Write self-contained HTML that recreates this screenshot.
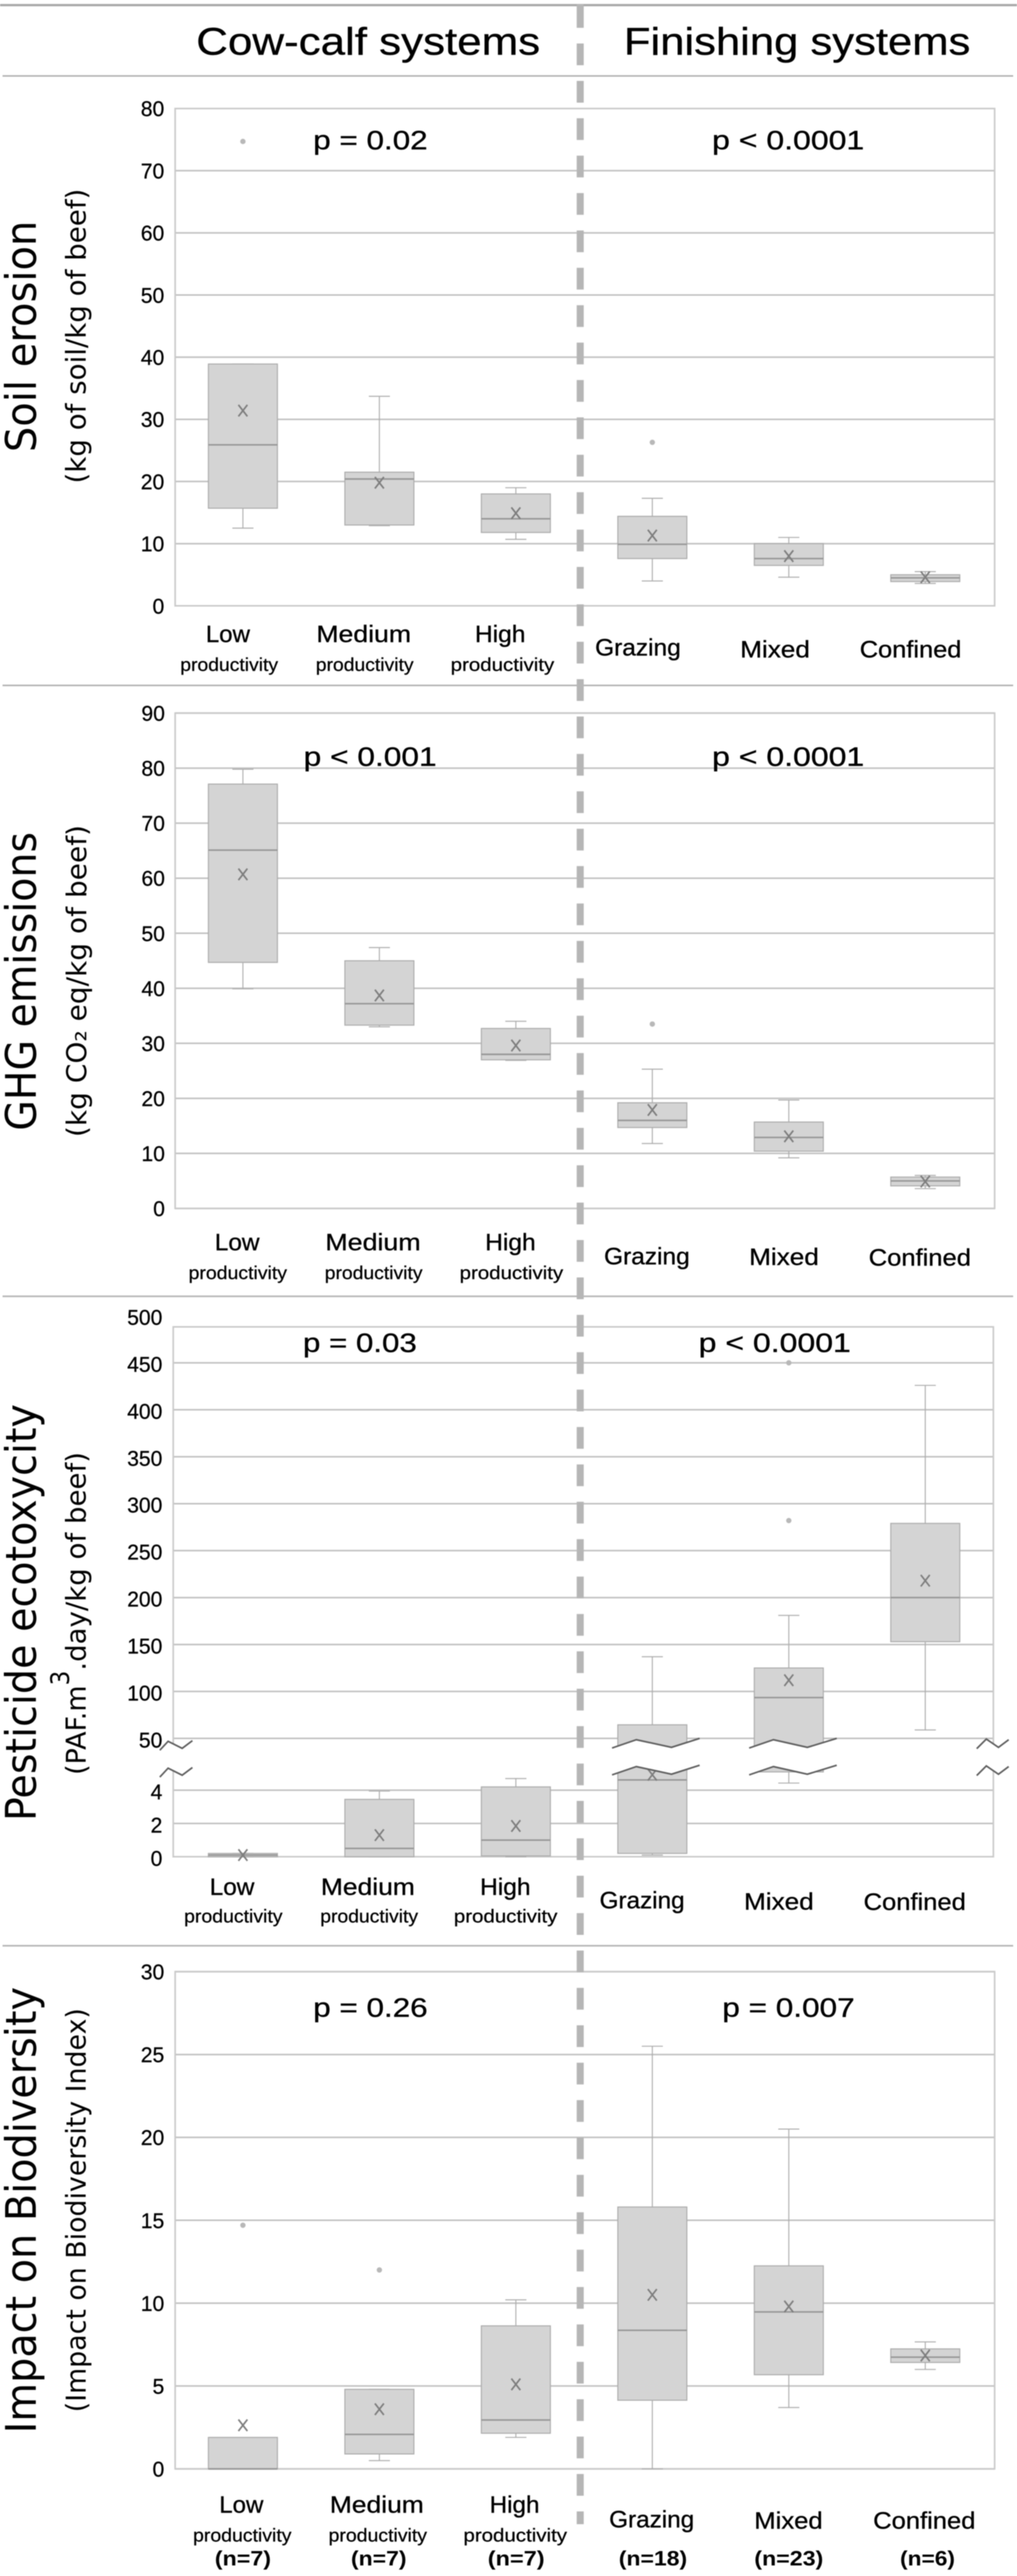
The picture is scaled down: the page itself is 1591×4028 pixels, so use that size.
<!DOCTYPE html>
<html lang="en">
<head>
<meta charset="utf-8">
<title>Beef production environmental impacts</title>
<style>
html,body{margin:0;padding:0;background:#fff;width:1591px;height:4028px;overflow:hidden}
#figure{display:block;width:1591px;height:4028px;filter:blur(.8px)}
text{fill:#000;font-family:"Liberation Sans",sans-serif}
.head{font-size:60px;stroke:#000;stroke-width:.5px}
.p{font-size:42px;stroke:#000;stroke-width:.5px}
.cat{font-size:37px;stroke:#000;stroke-width:.5px}
.prod{font-size:29px;stroke:#000;stroke-width:.4px}
.n{font-size:32px;font-weight:bold}
.tick{font-size:33px;text-anchor:end;stroke:#000;stroke-width:.4px}
.title{font-family:"DejaVu Sans",sans-serif;font-size:66px}
.sub{font-family:"DejaVu Sans",sans-serif;font-size:43px}
</style>
</head>
<body>
<svg id="figure" xmlns="http://www.w3.org/2000/svg" width="1591" height="4028" viewBox="0 0 1591 4028">
  <g id="plots"></g>

  <g stroke="#b4b4b4">
    <line x1="0" x2="1591" y1="8" y2="8" stroke-width="3.5" stroke="#a6a6a6"/>
    <line x1="4" x2="1585" y1="118.7" y2="118.7" stroke-width="2.5"/>
    <line x1="4" x2="1585" y1="1071.7" y2="1071.7" stroke-width="2.5"/>
    <line x1="4" x2="1585" y1="2027" y2="2027" stroke-width="2.5"/>
    <line x1="4" x2="1585" y1="3042.5" y2="3042.5" stroke-width="2.5"/>
  </g>
  <line x1="907.7" x2="907.7" y1="9.5" y2="3947" stroke="#b6b6b6" stroke-width="11" stroke-dasharray="34 24.47"/>
  <line x1="907.7" x2="907.7" y1="7" y2="10" stroke="#b6b6b6" stroke-width="11"/>

  <text class="head" x="307" y="85.5" textLength="538" lengthAdjust="spacingAndGlyphs">Cow-calf systems</text>
  <text class="head" x="976" y="85.5" textLength="542" lengthAdjust="spacingAndGlyphs">Finishing systems</text>

  <!-- Soil erosion -->
  <text class="title" transform="translate(56,707) rotate(-90)" textLength="362" lengthAdjust="spacingAndGlyphs">Soil erosion</text>
  <text class="sub" transform="translate(134,756) rotate(-90)" textLength="461" lengthAdjust="spacingAndGlyphs">(kg of soil/kg of beef)</text>
  <text class="p" x="490" y="233.5" textLength="179" lengthAdjust="spacingAndGlyphs">p = 0.02</text>
  <text class="p" x="1114" y="233.5" textLength="238" lengthAdjust="spacingAndGlyphs">p &lt; 0.0001</text>
  <g>
    <text class="cat" x="322" y="1004" textLength="69" lengthAdjust="spacingAndGlyphs">Low</text>
    <text class="prod" x="282" y="1049" textLength="153" lengthAdjust="spacingAndGlyphs">productivity</text>
    <text class="cat" x="495" y="1004" textLength="148" lengthAdjust="spacingAndGlyphs">Medium</text>
    <text class="prod" x="494" y="1049" textLength="153" lengthAdjust="spacingAndGlyphs">productivity</text>
    <text class="cat" x="743" y="1004" textLength="79" lengthAdjust="spacingAndGlyphs">High</text>
    <text class="prod" x="705" y="1049" textLength="162" lengthAdjust="spacingAndGlyphs">productivity</text>
    <text class="cat" x="931" y="1025" textLength="134" lengthAdjust="spacingAndGlyphs">Grazing</text>
    <text class="cat" x="1158" y="1028" textLength="109" lengthAdjust="spacingAndGlyphs">Mixed</text>
    <text class="cat" x="1345" y="1028" textLength="159" lengthAdjust="spacingAndGlyphs">Confined</text>
  </g>

  <!-- GHG -->
  <text class="title" transform="translate(56,1768) rotate(-90)" textLength="467" lengthAdjust="spacingAndGlyphs">GHG emissions</text>
  <text class="sub" transform="translate(135,1778) rotate(-90)" textLength="488" lengthAdjust="spacingAndGlyphs">(kg CO₂ eq/kg of beef)</text>
  <text class="p" x="475" y="1197.4" textLength="208" lengthAdjust="spacingAndGlyphs">p &lt; 0.001</text>
  <text class="p" x="1114" y="1197.4" textLength="238" lengthAdjust="spacingAndGlyphs">p &lt; 0.0001</text>
  <g>
    <text class="cat" x="336" y="1955" textLength="70" lengthAdjust="spacingAndGlyphs">Low</text>
    <text class="prod" x="295" y="2000" textLength="154" lengthAdjust="spacingAndGlyphs">productivity</text>
    <text class="cat" x="509" y="1955" textLength="149" lengthAdjust="spacingAndGlyphs">Medium</text>
    <text class="prod" x="508" y="2000" textLength="153" lengthAdjust="spacingAndGlyphs">productivity</text>
    <text class="cat" x="759" y="1955" textLength="79" lengthAdjust="spacingAndGlyphs">High</text>
    <text class="prod" x="719" y="2000" textLength="162" lengthAdjust="spacingAndGlyphs">productivity</text>
    <text class="cat" x="945" y="1977" textLength="134" lengthAdjust="spacingAndGlyphs">Grazing</text>
    <text class="cat" x="1172" y="1978" textLength="109" lengthAdjust="spacingAndGlyphs">Mixed</text>
    <text class="cat" x="1359" y="1979" textLength="160" lengthAdjust="spacingAndGlyphs">Confined</text>
  </g>

  <!-- Pesticide -->
  <text class="title" transform="translate(56,2847.5) rotate(-90)" textLength="652" lengthAdjust="spacingAndGlyphs">Pesticide ecotoxycity</text>
  <text class="sub" transform="translate(134,2775.4) rotate(-90)"><tspan textLength="140" lengthAdjust="spacingAndGlyphs">(PAF.m</tspan></text>
  <text class="sub" transform="translate(108,2635.4) rotate(-90)" style="font-size:40px" textLength="23" lengthAdjust="spacingAndGlyphs">3</text>
  <text class="sub" transform="translate(134,2612.4) rotate(-90)" textLength="342" lengthAdjust="spacingAndGlyphs">.day/kg of beef)</text>
  <text class="p" x="474" y="2114" textLength="178" lengthAdjust="spacingAndGlyphs">p = 0.03</text>
  <text class="p" x="1093" y="2114" textLength="238" lengthAdjust="spacingAndGlyphs">p &lt; 0.0001</text>
  <g>
    <text class="cat" x="328" y="2963" textLength="70" lengthAdjust="spacingAndGlyphs">Low</text>
    <text class="prod" x="288" y="3006" textLength="154" lengthAdjust="spacingAndGlyphs">productivity</text>
    <text class="cat" x="502" y="2963" textLength="147" lengthAdjust="spacingAndGlyphs">Medium</text>
    <text class="prod" x="501" y="3006" textLength="153" lengthAdjust="spacingAndGlyphs">productivity</text>
    <text class="cat" x="751" y="2963" textLength="79" lengthAdjust="spacingAndGlyphs">High</text>
    <text class="prod" x="710" y="3006" textLength="162" lengthAdjust="spacingAndGlyphs">productivity</text>
    <text class="cat" x="938" y="2984" textLength="133" lengthAdjust="spacingAndGlyphs">Grazing</text>
    <text class="cat" x="1164" y="2986" textLength="109" lengthAdjust="spacingAndGlyphs">Mixed</text>
    <text class="cat" x="1351" y="2986.5" textLength="160" lengthAdjust="spacingAndGlyphs">Confined</text>
  </g>

  <!-- Biodiversity -->
  <text class="title" transform="translate(56,3805) rotate(-90)" textLength="698" lengthAdjust="spacingAndGlyphs">Impact on Biodiversity</text>
  <text class="sub" transform="translate(134,3772) rotate(-90)" textLength="632" lengthAdjust="spacingAndGlyphs">(Impact on Biodiversity Index)</text>
  <text class="p" x="490" y="3153.7" textLength="179" lengthAdjust="spacingAndGlyphs">p = 0.26</text>
  <text class="p" x="1130" y="3153.7" textLength="207" lengthAdjust="spacingAndGlyphs">p = 0.007</text>
  <g>
    <text class="cat" x="343" y="3929" textLength="69" lengthAdjust="spacingAndGlyphs">Low</text>
    <text class="prod" x="302" y="3974" textLength="154" lengthAdjust="spacingAndGlyphs">productivity</text>
    <text class="cat" x="516" y="3929" textLength="147" lengthAdjust="spacingAndGlyphs">Medium</text>
    <text class="prod" x="514" y="3974" textLength="154" lengthAdjust="spacingAndGlyphs">productivity</text>
    <text class="cat" x="766" y="3929" textLength="78" lengthAdjust="spacingAndGlyphs">High</text>
    <text class="prod" x="725" y="3974" textLength="162" lengthAdjust="spacingAndGlyphs">productivity</text>
    <text class="cat" x="953" y="3952" textLength="133" lengthAdjust="spacingAndGlyphs">Grazing</text>
    <text class="cat" x="1180" y="3954" textLength="107" lengthAdjust="spacingAndGlyphs">Mixed</text>
    <text class="cat" x="1366" y="3954" textLength="160" lengthAdjust="spacingAndGlyphs">Confined</text>
    <text class="n" x="336" y="4011.5" textLength="88" lengthAdjust="spacingAndGlyphs">(n=7)</text>
    <text class="n" x="549" y="4011.5" textLength="87" lengthAdjust="spacingAndGlyphs">(n=7)</text>
    <text class="n" x="763" y="4011.5" textLength="89" lengthAdjust="spacingAndGlyphs">(n=7)</text>
    <text class="n" x="968" y="4011.5" textLength="107" lengthAdjust="spacingAndGlyphs">(n=18)</text>
    <text class="n" x="1180" y="4011.5" textLength="108" lengthAdjust="spacingAndGlyphs">(n=23)</text>
    <text class="n" x="1408" y="4011.5" textLength="86" lengthAdjust="spacingAndGlyphs">(n=6)</text>
  </g>
</svg>

<script>
const categories = ['low', 'medium', 'high', 'grazing', 'mixed', 'confined'];

const soilTicks = [0, 10, 20, 30, 40, 50, 60, 70, 80];
const soilMin = [12.5, 12.9, 10.7, 4, 4.6, 3.6];
const soilQ1 = [15.7, 13, 11.8, 7.6, 6.5, 3.9];
const soilMedian = [25.9, 20.4, 14, 9.9, 7.6, 4.5];
const soilQ3 = [38.9, 21.5, 18, 14.4, 10, 5];
const soilMax = [38.9, 33.7, 19, 17.3, 11, 5.5];
const soilMean = [31.4, 19.8, 14.9, 11.3, 8, 4.6];
const soilOutliers = [[74.7], [], [], [26.3], [], []];

const ghgTicks = [0, 10, 20, 30, 40, 50, 60, 70, 80, 90];
const ghgMin = [39.9, 33, 26.9, 11.8, 9.2, 3.6];
const ghgQ1 = [44.7, 33.3, 27, 14.7, 10.4, 4.1];
const ghgMedian = [65.1, 37.2, 28, 16, 12.9, 5];
const ghgQ3 = [77.1, 45, 32.7, 19.2, 15.7, 5.7];
const ghgMax = [79.8, 47.4, 34, 25.3, 19.7, 6];
const ghgMean = [60.7, 38.7, 29.6, 17.9, 13.1, 4.9];
const ghgOutliers = [[], [], [], [33.5], [], []];

const pestTicks = [0, 2, 4, 50, 100, 150, 200, 250, 300, 350, 400, 450, 500];
const pestMin = [0, 0, 0, 0.1, 4.43, 59];
const pestQ1 = [0, 0, 0.05, 0.2, 5.1, 153];
const pestMedian = [0.1, 0.5, 1, 4.62, 93.5, 200];
const pestQ3 = [0.2, 3.45, 4.2, 64.5, 125, 279];
const pestMax = [0.2, 3.95, 4.7, 137, 181, 426];
const pestMean = [0.1, 1.3, 1.85, 4.93, 112, 218];
const pestOutliers = [[], [], [], [], [282, 450], []];

const bioTicks = [0, 5, 10, 15, 20, 25, 30];
const bioMin = [0, 0.5, 1.9, 0, 3.7, 6];
const bioQ1 = [0, 0.9, 2.15, 4.14, 5.68, 6.42];
const bioMedian = [0, 2.08, 2.95, 8.36, 9.47, 6.74];
const bioQ3 = [1.9, 4.8, 8.63, 15.8, 12.25, 7.24];
const bioMax = [1.9, 4.8, 10.2, 25.5, 20.5, 7.66];
const bioMean = [2.63, 3.6, 5.1, 10.5, 9.8, 6.84];
const bioOutliers = [[14.7], [12], [], [], [], []];

const SVGNS = 'http://www.w3.org/2000/svg';
const root = document.getElementById('plots');

function linear(d0, d1, r0, r1) {
  return function (v) { return r0 + (v - d0) * (r1 - r0) / (d1 - d0); };
}
function xBand(i) { return 380 + i * 213.5; }

function shape(parent, tag, name, attrs) {
  const el = document.createElementNS(SVGNS, tag);
  
  
  for (const k in attrs) el.setAttribute(k, attrs[k]);
  parent.appendChild(el);
  return el;
}

function drawPanel(cfg) {
  const y = cfg.y;
  const g = shape(root, 'g', cfg.id + '-chart', {});
  const grid = shape(g, 'g', cfg.id + '-gridlines', {stroke: '#c2c2c2', 'stroke-width': 2.5});
  cfg.ticks.forEach(function (t) {
    const py = Math.max(y(t), cfg.top);
    shape(grid, 'line', cfg.id + '-gridline-' + t, {x1: cfg.left, x2: cfg.right, y1: py, y2: py});
  });
  shape(g, 'rect', cfg.id + '-plot-frame', {x: cfg.left, y: cfg.top, width: cfg.right - cfg.left, height: y(0) - cfg.top, fill: 'none', stroke: '#cacaca', 'stroke-width': 2.5});

  categories.forEach(function (c, i) {
    const cx = xBand(i);
    const name = cfg.id + '-' + c;
    const box = shape(g, 'g', name + '-boxplot', {});
    const whisk = {stroke: '#adadad', 'stroke-width': 1.6};
    shape(box, 'line', name + '-upper-whisker', Object.assign({x1: cx, x2: cx, y1: y(cfg.q3[i]), y2: y(cfg.max[i])}, whisk));
    shape(box, 'line', name + '-upper-cap', Object.assign({x1: cx - 16.5, x2: cx + 16.5, y1: y(cfg.max[i]), y2: y(cfg.max[i])}, whisk));
    shape(box, 'line', name + '-lower-whisker', Object.assign({x1: cx, x2: cx, y1: y(cfg.q1[i]), y2: y(cfg.min[i])}, whisk));
    shape(box, 'line', name + '-lower-cap', Object.assign({x1: cx - 16.5, x2: cx + 16.5, y1: y(cfg.min[i]), y2: y(cfg.min[i])}, whisk));
    shape(box, 'rect', name + '-box', {x: cx - 54, y: y(cfg.q3[i]), width: 108, height: y(cfg.q1[i]) - y(cfg.q3[i]), fill: '#d4d4d4', stroke: '#ababab', 'stroke-width': 1.6});
    shape(box, 'line', name + '-median', {x1: cx - 54, x2: cx + 54, y1: y(cfg.median[i]), y2: y(cfg.median[i]), stroke: '#969696', 'stroke-width': 2.4});
    const my = y(cfg.mean[i]);
    const xm = {stroke: '#7e7e7e', 'stroke-width': 2.6};
    shape(box, 'line', name + '-mean-a', Object.assign({x1: cx - 7, x2: cx + 7, y1: my - 9, y2: my + 9}, xm));
    shape(box, 'line', name + '-mean-b', Object.assign({x1: cx - 7, x2: cx + 7, y1: my + 9, y2: my - 9}, xm));
    cfg.outliers[i].forEach(function (v) {
      shape(box, 'circle', name + '-outlier', {cx: cx, cy: y(v), r: 4.2, fill: '#b8b8b8'});
    });
  });

  if (cfg.breaks) {
    const yUp = y(cfg.breakHigh);
    const marks = [
      {name: 'axis-left', at: [250, 263, 285, 301], up: [18.5, 4.5, 15.5, 3.5]},
      {name: 'grazing', at: [xBand(3) - 63, xBand(3) - 25, xBand(3) + 30, xBand(3) + 74], up: [15, 2, 14, 0]},
      {name: 'mixed', at: [xBand(4) - 62, xBand(4) - 24, xBand(4) + 29, xBand(4) + 75], up: [15, 2, 14, 0]},
      {name: 'axis-right', at: [1528, 1543, 1562, 1578], up: [16, 1, 14, 2]}
    ];
    marks.forEach(function (m) {
      const dn = m.up.map(function (d) { return yUp + d + 42; });
      const upPts = m.at.map(function (x, k) { return x + ',' + (yUp + m.up[k]); });
      const dnPts = m.at.map(function (x, k) { return x + ',' + dn[k]; });
      shape(g, 'polygon', cfg.id + '-break-mask-' + m.name, {points: upPts.concat(dnPts.slice().reverse()).join(' '), fill: '#fff'});
      shape(g, 'polyline', cfg.id + '-break-upper-' + m.name, {points: upPts.join(' '), fill: 'none', stroke: '#5f5f5f', 'stroke-width': 2.6});
      shape(g, 'polyline', cfg.id + '-break-lower-' + m.name, {points: dnPts.join(' '), fill: 'none', stroke: '#5f5f5f', 'stroke-width': 2.6});
    });
  }

  const labels = shape(g, 'g', cfg.id + '-tick-labels', {});
  cfg.ticks.forEach(function (t) {
    const el = shape(labels, 'text', cfg.id + '-tick-' + t, {x: cfg.labelX, y: y(t) + cfg.labelDy, class: 'tick'});
    el.textContent = t;
  });
}

drawPanel({
  id: 'soil', ticks: soilTicks, min: soilMin, q1: soilQ1, median: soilMedian, q3: soilQ3, max: soilMax, mean: soilMean, outliers: soilOutliers,
  y: linear(0, 80, 947.3, 169.7), top: 169.7, left: 274, right: 1556, labelX: 257, labelDy: 12
});
drawPanel({
  id: 'ghg', ticks: ghgTicks, min: ghgMin, q1: ghgQ1, median: ghgMedian, q3: ghgQ3, max: ghgMax, mean: ghgMean, outliers: ghgOutliers,
  y: linear(0, 90, 1889.6, 1115), top: 1115, left: 274, right: 1556, labelX: 258, labelDy: 12
});
const pestLow = linear(0, 5.5, 2903.3, 2760.3);
const pestHigh = linear(50, 450, 2718.3, 2131);
const pestGap = linear(5.5, 50, 2760.3, 2718.3);
drawPanel({
  id: 'pesticide', ticks: pestTicks, min: pestMin, q1: pestQ1, median: pestMedian, q3: pestQ3, max: pestMax, mean: pestMean, outliers: pestOutliers,
  y: function (v) { return v >= 50 ? pestHigh(v) : (v <= 5.5 ? pestLow(v) : pestGap(v)); },
  top: 2074.8, left: 271, right: 1554, labelX: 254, labelDy: 14, breaks: true, breakHigh: 50
});
drawPanel({
  id: 'biodiversity', ticks: bioTicks, min: bioMin, q1: bioQ1, median: bioMedian, q3: bioQ3, max: bioMax, mean: bioMean, outliers: bioOutliers,
  y: linear(0, 30, 3860.5, 3083), top: 3083, left: 274, right: 1556, labelX: 257, labelDy: 12
});
</script>
</body>
</html>
